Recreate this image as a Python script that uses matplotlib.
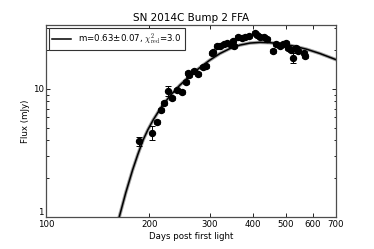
import matplotlib
matplotlib.use("Agg")
import matplotlib.pyplot as plt
import numpy as np
from matplotlib.ticker import FixedLocator, FixedFormatter, NullFormatter, LogLocator

plt.rcParams['mathtext.fontset'] = 'cm'
plt.rcParams['font.family'] = 'DejaVu Sans'

# photometry (days, mJy, err)
days = [186.6, 202.8, 209.7, 215.9, 220.7, 226.7, 231.9, 240.9, 248.1, 255.4,
        259.4, 261.5, 270.1, 277.3, 285.7, 292.2, 303.5, 306.8, 314.0, 321.0,
        330.4, 337.1, 343.3, 349.6, 352.6, 363.0, 371.3, 379.7, 390.0, 406.1,
        412.4, 420.0, 431.3, 441.0, 459.2, 467.7, 480.3, 491.2, 500.0, 507.8,
        516.1, 525.3, 535.0, 543.3, 564.4, 568.2]
flux = [3.89, 4.56, 5.55, 6.85, 7.82, 9.70, 8.55, 9.82, 9.53, 11.28,
        13.27, 12.85, 13.82, 13.10, 14.77, 15.20, 19.0, 19.6, 21.7, 21.7,
        22.3, 23.0, 22.3, 23.85, 21.7, 25.6, 24.9, 25.3, 25.9, 27.5,
        26.4, 25.3, 25.3, 24.6, 19.8, 22.5, 21.7, 22.5, 23.0, 20.8,
        20.2, 17.6, 20.8, 19.9, 19.2, 18.1]
ferr = [0.30, 0.55, 0.20, 0.25, 0.30, 0.85, 0.30, 0.35, 0.35, 0.40,
        0.45, 0.45, 0.50, 0.50, 0.55, 0.55, 0.70, 0.70, 0.80, 0.80,
        0.80, 0.85, 0.80, 0.85, 0.80, 0.95, 0.90, 0.90, 0.95, 1.00,
        0.95, 0.90, 0.90, 0.90, 0.75, 0.80, 0.80, 0.80, 0.85, 0.75,
        0.75, 1.50, 0.75, 0.75, 0.70, 0.70]

# FFA fit curve
fit_days = [163.2, 170.6, 178.5, 184.9, 191.6, 197.8, 205.0, 215.9, 229.4,
            245.3, 262.4, 280.6, 300.1, 320.9, 343.3, 367.2, 392.7, 420.1,
            449.2, 480.4, 524.2, 574.8, 628.5, 700.0]
fit_flux = [1.0, 1.554, 2.329, 3.078, 3.996, 4.80, 5.726, 7.143, 8.817,
            10.71, 12.66, 14.70, 16.82, 18.91, 20.69, 22.03, 22.84, 23.13,
            23.00, 22.59, 21.72, 20.46, 18.94, 16.97]

xticks = [100, 200, 300, 400, 500, 600, 700]

fig = plt.figure(figsize=(3.74, 2.49), dpi=100)
ax = fig.add_axes([0.124, 0.1285, 0.774, 0.771])

ax.plot(fit_days, fit_flux, color='0.55', lw=2.5, alpha=0.8, zorder=1)
ax.plot(fit_days, fit_flux, color='k', lw=1.1, zorder=2,
        label=u'm=0.63\u00b10.07, $\\chi^2_{\\rm red}$=3.0')
ax.errorbar(days, flux, yerr=ferr, fmt='o', color='k', ms=4.3, capsize=2,
            elinewidth=0.7, capthick=0.7, zorder=3)

ax.set_xscale('log')
ax.set_yscale('log')
ax.set_xlim(100, 700)
ax.set_ylim(1, 31.6)

ax.xaxis.set_major_locator(FixedLocator(xticks))
ax.xaxis.set_major_formatter(FixedFormatter([str(t) for t in xticks]))
ax.xaxis.set_minor_locator(FixedLocator([]))
ax.xaxis.set_minor_formatter(NullFormatter())
ax.yaxis.set_major_locator(FixedLocator([1, 10]))
ax.yaxis.set_major_formatter(FixedFormatter(['1', '10']))
ax.yaxis.set_minor_locator(LogLocator(base=10, subs=np.arange(2, 10)))
ax.yaxis.set_minor_formatter(NullFormatter())

ax.tick_params(which='both', direction='in', top=True, right=True,
               labelsize=6.2, pad=2, width=0.6)
ax.tick_params(which='major', length=3)
ax.tick_params(which='minor', length=1.8)
for s in ax.spines.values():
    s.set_linewidth(0.9)
    s.set_color('0.3')

# the "1" sits just above the "100" like in the original
ax.get_yticklabels()[0].set_va('bottom')

ax.set_xlabel('Days post first light', fontsize=6.2, labelpad=2)
ax.set_ylabel('Flux (mJy)', fontsize=6.2, labelpad=2)
ax.set_title('SN 2014C Bump 2 FFA', fontsize=7.5, pad=3)

leg = ax.legend(loc='upper left', fontsize=6.2, fancybox=False, framealpha=1,
                borderaxespad=0.3, handlelength=2.2, borderpad=0.4)
leg.get_frame().set_edgecolor('0.2')
leg.get_frame().set_linewidth(0.8)

fig.savefig('out.png', dpi=100)
